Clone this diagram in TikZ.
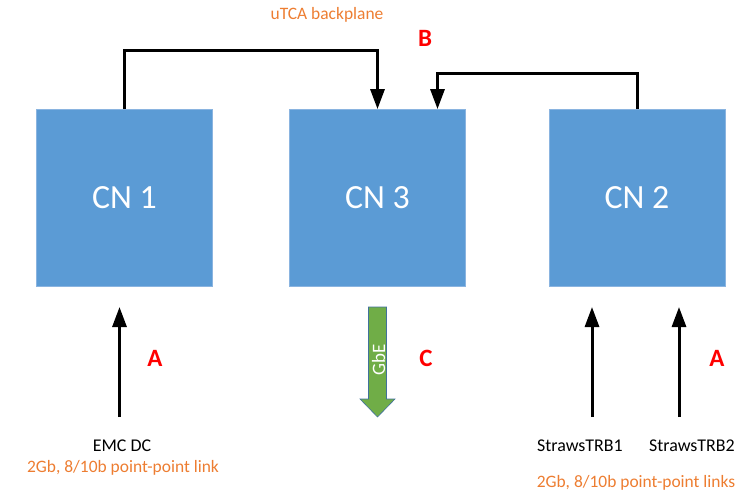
\documentclass[tikz,border=0pt]{standalone}
\usepackage{fontspec}
\setmainfont{Carlito}
\usetikzlibrary{arrows.meta,calc}
\definecolor{boxblue}{HTML}{5B9BD5}
\definecolor{boxedge}{HTML}{8AB4E0}
\definecolor{lblorange}{HTML}{ED7D31}
\definecolor{arrgreen}{HTML}{70AD47}
\definecolor{arredge}{HTML}{41719C}
\tikzset{
  cnbox/.style={draw=boxedge, line width=0.8bp, fill=boxblue, minimum width=176bp, minimum height=177bp, inner sep=0pt, text=white, font=\fontsize{34}{36}\selectfont},
  conn/.style={line width=3bp, -{Triangle[length=20bp,width=14bp]}},
  redlbl/.style={text=red, font=\fontsize{25}{27}\selectfont\bfseries},
  orangelbl/.style={text=lblorange, font=\fontsize{17.5}{20}\selectfont},
  blacklbl/.style={text=black, font=\fontsize{18}{20}\selectfont},
  gbearrow/.style={draw=arredge, line width=0.6bp, fill=arrgreen, line join=miter},
}
\begin{document}
\begin{tikzpicture}[x=1bp,y=-1bp]
\useasboundingbox (0,0) rectangle (746,493);
\node[cnbox] (cn1) at (124.5,198) {CN 1};
\node[cnbox] (cn3) at (377.5,198) {CN 3};
\node[cnbox] (cn2) at (637,198) {CN 2};
% backplane connectors
\coordinate (b1) at (377.5,51);
\coordinate (b2) at (437.5,74);
\draw[conn, line join=miter] (cn1.north) |- (b1) -- (cn3.north);
\draw[conn, line join=miter] (cn2.north) |- (b2) -- (b2 |- cn3.north);
% input arrows
\coordinate (e1) at (119.5,417);
\coordinate (e1t) at (119.5,307);
\coordinate (s1) at (592,417);
\coordinate (s1t) at (592,307);
\coordinate (s2) at (679,417);
\coordinate (s2t) at (679,307);
\draw[conn] (e1) -- (e1t);
\draw[conn] (s1) -- (s1t);
\draw[conn] (s2) -- (s2t);
% GbE arrow
\draw[gbearrow] (368.5,307) -- (386.5,307) -- (386.5,399) -- (395,399) -- (377.5,417)
  -- (360,399) -- (368.5,399) -- cycle;
\node[text=white, rotate=90, inner sep=0pt, font=\fontsize{19}{20}\selectfont] (gbelbl) at (378.5,360) {GbE};
% labels
\node[orangelbl] (utca) at (327,15) {uTCA backplane};
\node[redlbl] (lb) at (425,38) {B};
\node[redlbl] (la1) at (155,358) {A};
\node[redlbl] (lc) at (426,358) {C};
\node[redlbl] (la2) at (717,358) {A};
\node[blacklbl] (emc) at (122,446) {EMC DC};
\node[orangelbl] (emcl) at (123,468) {2Gb, 8/10b point-point link};
\node[blacklbl] (trb1) at (580,446) {StrawsTRB1};
\node[blacklbl] (trb2) at (692,446) {StrawsTRB2};
\node[orangelbl] (trbl) at (636,483) {2Gb, 8/10b point-point links};
\end{tikzpicture}
\end{document}
